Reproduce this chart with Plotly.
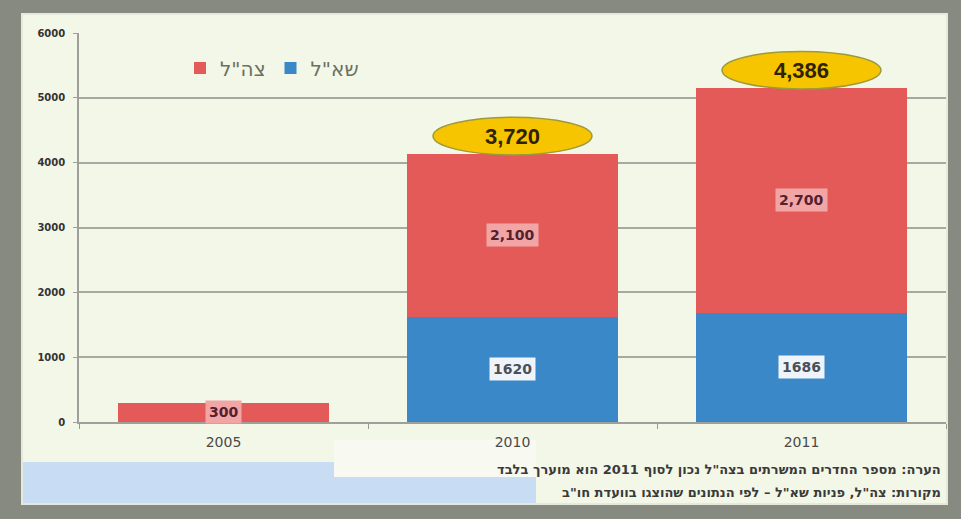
import plotly.graph_objects as go

# ---- data ----
years = ["2005", "2010", "2011"]
shal_drawn = [0, 1620, 1686]          # blue segment (as drawn)
tzahal_drawn = [300, 2520, 3470]      # red segment (as drawn)
shal_labels = ["", "1620", "1686"]
tzahal_labels = ["300", "2,100", "2,700"]
total_labels = ["", "3,720", "4,386"]
y_ticks = [0, 1000, 2000, 3000, 4000, 5000, 6000]
series_names = ["שא\"ל", "צה\"ל"]
note_lines = [
    "\u200fהערה: מספר החדרים המשרתים בצה\"ל נכון לסוף 2011 הוא מוערך בלבד\u200f",
    "\u200fמקורות: צה\"ל, פניות שא\"ל – לפי הנתונים שהוצגו בוועדת חו\"ב\u200f",
]

RED = "#e35a59"
BLUE = "#3a88c8"

# plot-area geometry (pixels) used to convert decoration positions
W, H = 961, 519
L, R, T, B = 79, 15, 33, 97
PW, PH = W - L - R, H - T - B


def px(x):
    return (x - L) / PW


def py(y):
    return (H - B - y) / PH


fig = go.Figure()
fig.add_trace(go.Bar(x=years, y=shal_drawn, name=series_names[0],
                     marker=dict(color=BLUE, line=dict(width=0)), width=0.73))
fig.add_trace(go.Bar(x=years, y=tzahal_drawn, name=series_names[1],
                     marker=dict(color=RED, line=dict(width=0)), width=0.73))

shapes = [
    # inner cream panel
    dict(type="rect", xref="paper", yref="paper", x0=px(22), x1=px(947), y0=py(504), y1=py(14),
         fillcolor="#f3f7e7", line=dict(color="#e4e9dc", width=2), layer="below"),
    # light patches bottom-left
    dict(type="rect", xref="paper", yref="paper", x0=px(334), x1=px(536), y0=py(477), y1=py(440),
         fillcolor="#f8faf2", line=dict(width=0), layer="below"),
    dict(type="rect", xref="paper", yref="paper", x0=px(23), x1=px(334), y0=py(503), y1=py(462),
         fillcolor="#c8ddf3", line=dict(width=0), layer="below"),
    dict(type="rect", xref="paper", yref="paper", x0=px(333), x1=px(536), y0=py(503), y1=py(477),
         fillcolor="#c8ddf3", line=dict(width=0), layer="below"),
]

annotations = []
for i, yr in enumerate(years):
    base = shal_drawn[i]
    top = shal_drawn[i] + tzahal_drawn[i]
    if shal_labels[i]:
        annotations.append(dict(x=i, y=shal_drawn[i] / 2, text=shal_labels[i], showarrow=False,
                                font=dict(family="DejaVu Sans", size=14, color="#4a5058", weight="bold"),
                                bgcolor="#eef4fa", borderpad=3))
    annotations.append(dict(x=i, y=base + tzahal_drawn[i] / 2, text=tzahal_labels[i], showarrow=False,
                            font=dict(family="DejaVu Sans", size=14, color="#552030", weight="bold"),
                            bgcolor="#f2a5a5", borderpad=3))
    if total_labels[i]:
        cy = top + 270
        shapes.append(dict(type="circle", xref="x", yref="y", x0=i - 0.275, x1=i + 0.275,
                           y0=cy - 290, y1=cy + 290, fillcolor="#f7c400",
                           line=dict(color="#9c9a3a", width=1.5), layer="above"))
        annotations.append(dict(x=i, y=cy, text=total_labels[i], showarrow=False,
                                font=dict(family="Liberation Sans", size=22, color="#2e2200", weight="bold")))

for k, line in enumerate(note_lines):
    annotations.append(dict(xref="paper", yref="paper", x=px(943), y=py(469 + 23 * k),
                            xanchor="right", yanchor="middle", text=line, showarrow=False,
                            font=dict(family="DejaVu Sans", size=13, color="#3a3a3a", weight="bold")))

fig.update_layout(
    width=W, height=H,
    margin=dict(l=L, r=R, t=T, b=B),
    paper_bgcolor="#878a80",
    plot_bgcolor="rgba(0,0,0,0)",
    barmode="stack",
    bargap=0.27,
    showlegend=True,
    legend=dict(orientation="h", x=px(180), y=py(68), xanchor="left", yanchor="middle",
                traceorder="reversed", bgcolor="rgba(0,0,0,0)", itemwidth=30,
                font=dict(family="DejaVu Sans", size=20, color="#6b705f")),
    shapes=shapes,
    annotations=annotations,
    xaxis=dict(type="category", range=[-0.5, len(years) - 0.5], autorange=False,
               showgrid=False, tickson="boundaries", ticks="outside", ticklen=5,
               tickcolor="#9a9a94", showline=True, linecolor="#a0a09a", linewidth=1.5,
               ticklabelstandoff=6,
               tickfont=dict(family="DejaVu Sans", size=14, color="#4a4a4a")),
    yaxis=dict(range=[0, 6000], tickvals=y_ticks, ticktext=[str(v) for v in y_ticks],
               showgrid=True, gridcolor="#a8a8a2", gridwidth=1.5, zeroline=False,
               showline=True, linecolor="#a0a09a", linewidth=1.5,
               ticks="outside", ticklen=4, tickcolor="#a0a09a", ticklabelstandoff=6,
               tickfont=dict(family="DejaVu Sans", size=10, color="#333333", weight="bold")),
)

fig.write_html("out.html", config={"displayModeBar": False},
               post_script="document.body.style.margin='0';")
